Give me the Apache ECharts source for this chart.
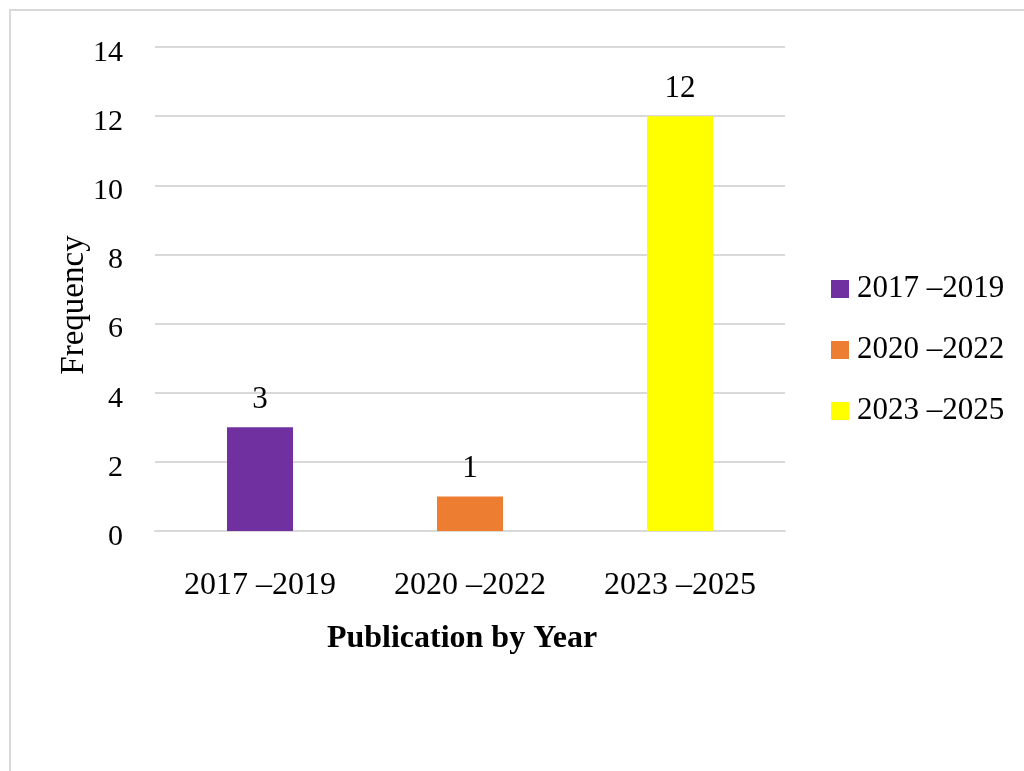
<!DOCTYPE html>
<html><head><meta charset="utf-8">
<script src="https://cdn.jsdelivr.net/npm/echarts@6/dist/echarts.min.js"></script>
<style>
html,body{margin:0;padding:0;background:#fff;}
#frame{position:absolute;left:9px;top:9px;width:1100px;height:900px;border:2px solid #d9d9d9;box-sizing:border-box;}
#c{position:absolute;left:0;top:0;width:1024px;height:771px;}
</style>
</head><body>
<div id="frame"></div>
<div id="c"></div>
<script>
const categories = ["2017 –2019", "2020 –2022", "2023 –2025"];
const seriesNames = ["2017 –2019", "2020 –2022", "2023 –2025"];
const values = [3, 1, 12];
const colors = ["#7030a0", "#ed7d31", "#ffff00"];
const yTicks = {min: 0, max: 14, interval: 2};

const font = "'Liberation Serif', 'Times New Roman', serif";
const chart = echarts.init(document.getElementById('c'), null, {renderer: 'canvas'});
const series = seriesNames.map((n, i) => ({
  name: n,
  type: 'bar',
  stack: 'all',
  barWidth: 66,
  itemStyle: {color: colors[i]},
  label: {show: true, position: 'top', distance: 12, color: '#000', fontFamily: font, fontSize: 31},
  data: categories.map((c, j) => j === i ? values[i] : '-')
}));
chart.setOption({
  animation: false,
  backgroundColor: 'transparent',
  textStyle: {fontFamily: font},
  grid: {left: 155, right: 239, top: 47, bottom: 240},
  legend: {
    orient: 'vertical', left: 831, top: 267, padding: 0,
    itemWidth: 18, itemHeight: 18, itemGap: 17,
    icon: 'rect',
    textStyle: {fontFamily: font, fontSize: 31, lineHeight: 32, color: '#000', padding: [12, 0, 0, 3]},
    data: seriesNames
  },
  xAxis: {
    type: 'category', data: categories,
    axisLine: {lineStyle: {color: '#d9d9d9', width: 2}},
    axisTick: {show: false},
    axisLabel: {color: '#000', fontFamily: font, fontSize: 32, margin: 39},
    name: 'Publication by Year', nameLocation: 'middle', nameGap: 92,
    nameMoveOverlap: false,
    nameTextStyle: {color: '#000', fontFamily: font, fontSize: 32, fontWeight: 'bold', padding: [0, 16, 0, 0]}
  },
  yAxis: {
    type: 'value', min: yTicks.min, max: yTicks.max, interval: yTicks.interval,
    axisLine: {show: false}, axisTick: {show: false},
    splitLine: {lineStyle: {color: '#d9d9d9', width: 2}},
    axisLabel: {
      margin: 32,
      formatter: '{a|{value}}',
      rich: {a: {color: '#000', fontFamily: font, fontSize: 30, lineHeight: 30, padding: [12, 0, 0, 0]}}
    },
    name: 'Frequency', nameLocation: 'middle', nameGap: 64,
    nameMoveOverlap: false,
    nameTextStyle: {color: '#000', fontFamily: font, fontSize: 33, padding: [0, 32, 0, 0]}
  },
  series: series
});
</script>
</body></html>
